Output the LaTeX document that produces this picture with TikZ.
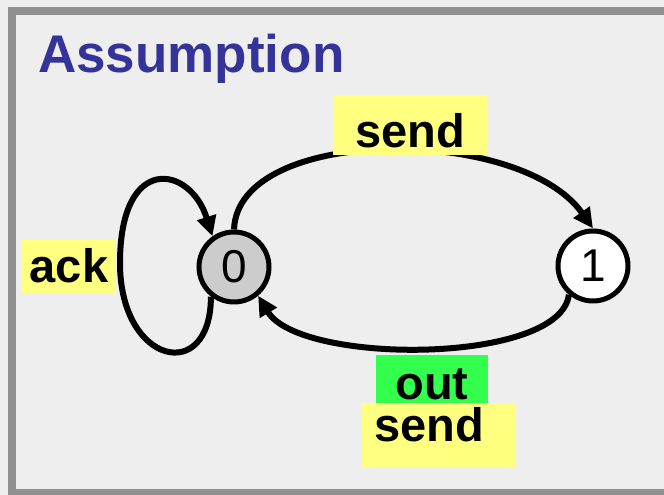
\documentclass[tikz,border=0pt]{standalone}
\usepackage{fontspec}
\setmainfont{Liberation Sans}
\usepackage{xcolor}
\definecolor{panel}{HTML}{EEEEEE}
\definecolor{rim}{HTML}{909090}
\definecolor{headblue}{HTML}{333399}
\definecolor{hiyellow}{HTML}{FFFF80}
\definecolor{higreen}{HTML}{33FF4D}
\definecolor{stategray}{HTML}{CCCCCC}
\usetikzlibrary{arrows.meta}

\begin{document}
\begin{tikzpicture}[x=1pt,y=1pt,
  state/.style={circle,draw,line width=5pt,minimum size=70pt,inner sep=0pt,font=\fontsize{46}{46}\selectfont},
  lbl/.style={fill=#1,inner sep=0pt,font=\bfseries\fontsize{47}{47}\selectfont},
  trans/.style={line width=6pt,-{Triangle[length=20pt,width=19pt]}}]
\useasboundingbox (0,0) rectangle (664,495);
\fill[panel] (0,0) rectangle (664,495);
\draw[rim,line width=8pt] (12,2) rectangle (690,483.5);
\node[anchor=base west,inner sep=0pt,text=headblue,font=\bfseries\fontsize{53}{53}\selectfont] (title) at (38,422) {Assumption};
% states
\node[state,fill=stategray] (s0) at (234,228) {0};
\node[state,fill=white] (s1) at (593,229) {1};
% transitions
\draw[trans] (s0.north) .. controls (238,370) and (520,370) .. (s1.north);
\draw[trans] (s1.-130) .. controls (560,130) and (300,130) .. (s0.-50);
\coordinate (loopw) at (120,232);
\draw[trans] (s0.-128) .. controls (211,110) and (120,130) .. (loopw) .. controls (120,342) and (190,330) .. (s0.125);
% labels
\node[lbl=hiyellow,minimum width=154pt,text height=53pt,text depth=7pt] (sendtop) at (410,370) {send};
\node[lbl=hiyellow,minimum width=94pt,text height=43pt,text depth=10pt] (ack) at (69,228.5) {ack};
\node[lbl=higreen,minimum width=112pt,text height=45pt,text depth=3pt] (out) at (432,116) {out};
\node[lbl=hiyellow,minimum width=154pt,text height=39pt,text depth=25pt] (sendbot) at (439,60) {send\hspace*{20pt}};
\end{tikzpicture}
\end{document}
